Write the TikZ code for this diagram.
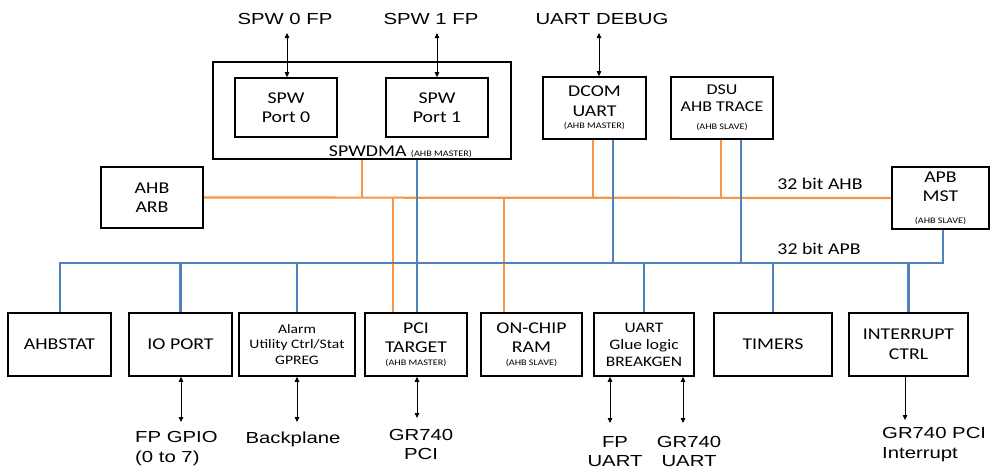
\documentclass[tikz,border=0pt]{standalone}
\usepackage{fontspec}
\setmainfont{Carlito}[FakeStretch=1.2]
\newfontfamily\arl{Liberation Sans}[FakeStretch=1.27]
\usetikzlibrary{arrows.meta}
\definecolor{ahbc}{RGB}{247,150,70}
\definecolor{apbc}{RGB}{79,129,189}
\newcommand{\bigf}{\fontsize{16.5}{19.5}\selectfont}
\newcommand{\tinyf}{\fontsize{8.5}{10}\selectfont}
\tikzset{
  box/.style={draw, line width=1.6pt, inner sep=0pt, align=center, font=\bigf},
  ahbline/.style={draw=ahbc, line width=2.2pt},
  apbline/.style={draw=apbc, line width=2.2pt},
  dbl/.style={line width=0.8pt, {Triangle[length=5pt,width=4.5pt]}-{Triangle[length=5pt,width=4.5pt]}},
  sgl/.style={line width=0.8pt, -{Triangle[length=5pt,width=4.5pt]}},
  outl/.style={font=\arl\fontsize{16}{20}\selectfont, inner sep=0pt, anchor=base},
  busl/.style={font=\bigf, inner sep=0pt, anchor=base}
}
\begin{document}
\begin{tikzpicture}[x=1pt,y=-1pt]
\useasboundingbox (0,0) rectangle (991,469);
% top boxes
\node[box, minimum width=298pt, minimum height=97pt] (spwdma) at (362,110.5) {};
\node[busl] (spwdmal) at (400.5,156) {SPWDMA \tinyf(AHB MASTER)};
\node[box, minimum width=102pt, minimum height=59pt] (p0) at (286,107.5) {SPW\\Port 0};
\node[box, minimum width=102pt, minimum height=59pt] (p1) at (437,107.5) {SPW\\Port 1};
\node[box, minimum width=103pt, minimum height=62pt] (dcom) at (594.5,108) {DCOM\\UART\\[-7pt]{\tinyf (AHB MASTER)}};
\node[box, minimum width=102pt, minimum height=62pt, font=\fontsize{15}{17}\selectfont] (dsu) at (722,108) {DSU\\AHB TRACE\\[1pt]{\tinyf (AHB SLAVE)}};
\node[box, minimum width=102pt, minimum height=61pt] (arb) at (152,197.5) {AHB\\ARB};
\node[box, minimum width=97pt, minimum height=62pt] (apbmst) at (940.5,198) {APB\\MST\\[2pt]{\tinyf (AHB SLAVE)}};
% bottom boxes
\node[box, minimum width=103pt, minimum height=63pt] (ahbstat) at (59.5,344.5) {AHBSTAT};
\node[box, minimum width=103pt, minimum height=63pt] (ioport) at (180.5,344.5) {IO PORT};
\node[box, minimum width=116pt, minimum height=63pt, font=\fontsize{13}{15.5}\selectfont] (alarm) at (297,344.5) {Alarm\\Utility Ctrl/Stat\\GPREG};
\node[box, minimum width=102pt, minimum height=63pt] (pci) at (416,344.5) {PCI\\TARGET\\[-7pt]{\tinyf (AHB MASTER)}};
\node[box, minimum width=101pt, minimum height=63pt] (ram) at (531.5,344.5) {ON-CHIP\\RAM\\[-7pt]{\tinyf (AHB SLAVE)}};
\node[box, minimum width=100pt, minimum height=63pt, font=\fontsize{14.5}{17}\selectfont] (uart) at (644,344.5) {UART\\Glue logic\\BREAKGEN};
\node[box, minimum width=118pt, minimum height=63pt] (timers) at (773,344.5) {TIMERS};
\node[box, minimum width=119pt, minimum height=63pt] (irq) at (908.5,344.5) {INTERRUPT\\CTRL};
% bus labels
\node[busl] (ahblab) at (820,189) {32 bit AHB};
\node[busl] (apblab) at (819,254) {32 bit APB};
% AHB bus
\coordinate (tspw) at (362,198);
\coordinate (tpci) at (393,198);
\coordinate (tram) at (504,198);
\coordinate (tdcom) at (593,198);
\coordinate (tdsu) at (721,198);
\draw[ahbline] (arb.east) -- (apbmst.west);
\draw[ahbline] (spwdma.south -| tspw) -- (tspw);
\draw[ahbline] (tpci) -- (pci.north -| tpci);
\draw[ahbline] (tram) -- (ram.north -| tram);
\draw[ahbline] (dcom.south -| tdcom) -- (tdcom);
\draw[ahbline] (dsu.south -| tdsu) -- (tdsu);
% APB bus
\coordinate (apbL) at (60,263);
\coordinate (apbR) at (943,263);
\coordinate (bspw) at (417,263);
\coordinate (bdcom) at (613,263);
\coordinate (bdsu) at (741,263);
\draw[apbline] (ahbstat.north -| apbL) -- (apbL) -- (apbR) -- (apbmst.south -| apbR);
\draw[apbline] (ioport.north) -- (ioport.north |- apbL);
\draw[apbline] (alarm.north) -- (alarm.north |- apbL);
\draw[apbline] (uart.north) -- (uart.north |- apbL);
\draw[apbline] (timers.north) -- (timers.north |- apbL);
\draw[apbline] (irq.north) -- (irq.north |- apbL);
\draw[apbline] (spwdma.south -| bspw) -- (pci.north -| bspw);
\draw[apbline] (dcom.south -| bdcom) -- (bdcom);
\draw[apbline] (dsu.south -| bdsu) -- (bdsu);
% top labels and arrows
\node[outl] (l0) at (285,24) {SPW 0 FP};
\node[outl] (l1) at (431,24) {SPW 1 FP};
\node[outl] (ld) at (602,24) {UART DEBUG};
\coordinate (s0) at (287,33);
\coordinate (s1) at (437,33);
\coordinate (sd) at (599,33);
\draw[dbl] (s0) -- (p0.north -| s0);
\draw[dbl] (s1) -- (p1.north -| s1);
\draw[dbl] (sd) -- (dcom.north -| sd);
% bottom labels and arrows
\node[outl, anchor=base west] (lgpio) at (135,442) {FP GPIO};
\node[outl, anchor=base west] (lgpio2) at (135,462) {(0 to 7)};
\node[outl] (lback) at (293,443) {Backplane};
\node[outl] (lpci) at (421,440) {GR740};
\node[outl] (lpci2) at (421,459) {PCI};
\node[outl] (lfp) at (615,447) {FP};
\node[outl] (lfp2) at (615,466) {UART};
\node[outl] (lgu) at (689,447) {GR740};
\node[outl] (lgu2) at (689,466) {UART};
\node[outl, anchor=base west] (lirq) at (882,438) {GR740 PCI};
\node[outl, anchor=base west] (lirq2) at (882,458) {Interrupt};
\coordinate (eio) at (181,422);
\coordinate (eal) at (297,422);
\coordinate (epci) at (417,418);
\coordinate (efp) at (610,423);
\coordinate (egu) at (683,423);
\coordinate (eirq) at (905,420);
\draw[dbl] (ioport.south -| eio) -- (eio);
\draw[dbl] (alarm.south -| eal) -- (eal);
\draw[dbl] (pci.south -| epci) -- (epci);
\draw[dbl] (uart.south -| efp) -- (efp);
\draw[dbl] (uart.south -| egu) -- (egu);
\draw[sgl] (irq.south -| eirq) -- (eirq);
\end{tikzpicture}
\end{document}
